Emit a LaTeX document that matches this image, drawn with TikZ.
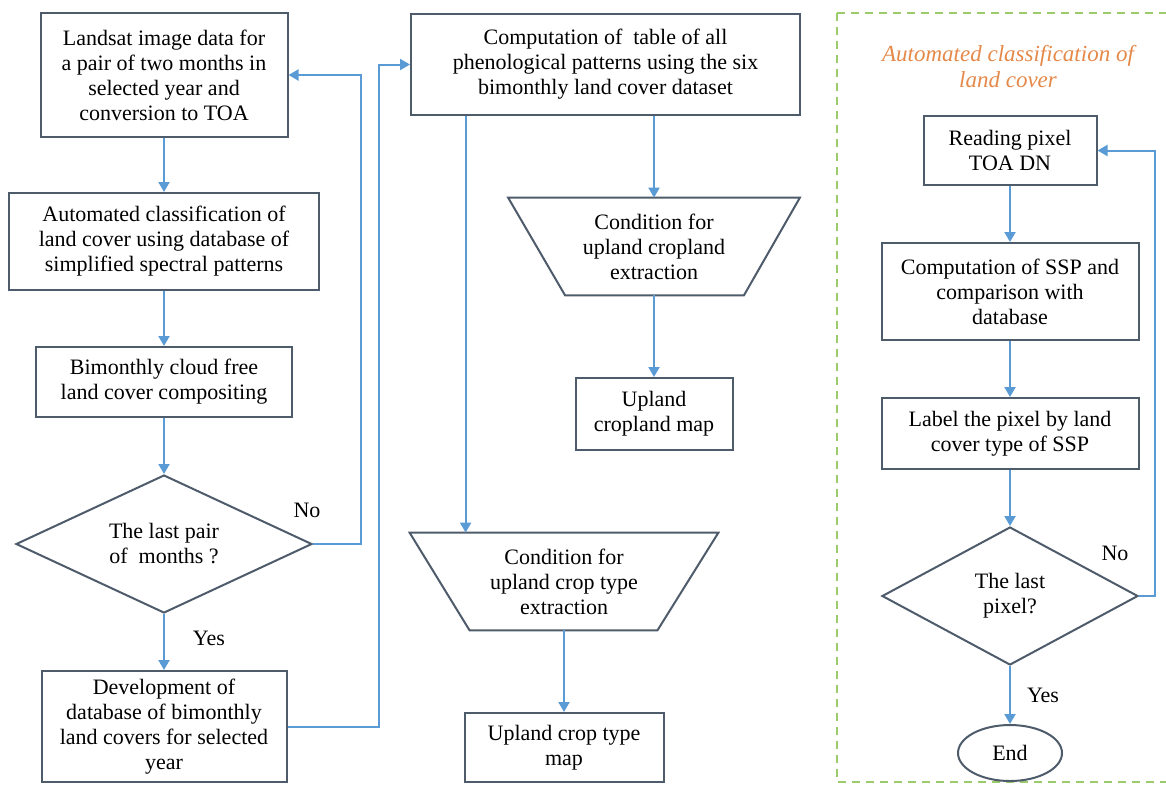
\documentclass[tikz,border=0pt]{standalone}
\usepackage{fontspec}
\setmainfont{Liberation Serif}
\usetikzlibrary{shapes.geometric,arrows.meta,calc}
\definecolor{boxc}{HTML}{4E5B6A}
\definecolor{arrc}{HTML}{5B9BD5}
\definecolor{framec}{HTML}{9BCB6B}
\definecolor{titlec}{HTML}{E4894A}
\begin{document}
\begin{tikzpicture}[x=0.5pt,y=-0.5pt,
  base/.style={font=\fontsize{11}{12.5}\selectfont, align=center, inner sep=0pt},
  box/.style={base, draw=boxc, line width=1pt, rectangle},
  dia/.style={base, draw=boxc, line width=1pt, diamond},
  trapbox/.style={base, rectangle},
  trapline/.style={draw=boxc, line width=1pt, line join=miter},
  arr/.style={draw=arrc, line width=1pt, -{Triangle[width=5.5pt,length=5pt]}},
  lab/.style={font=\fontsize{11}{12.5}\selectfont, inner sep=0pt}]
\useasboundingbox (0,0) rectangle (1166,784);

% dashed frame
\draw[framec, line width=0.7pt, dash pattern=on 4pt off 3pt] (837,13) rectangle (1185,782);
\node[font=\fontsize{11.5}{13}\selectfont\itshape, text=titlec, align=center, inner sep=0pt] (title) at (1008,67) {Automated classification of\\land cover};

% left column
\node[box, minimum width=123.5pt, minimum height=62pt] (A) at (164,75)
  {Landsat image data for\\a pair of two months in\\selected year and\\conversion to TOA};
\node[box, minimum width=155pt, minimum height=48.5pt] (B) at (164,241.5)
  {Automated classification of\\land cover using database of\\simplified spectral patterns};
\node[box, minimum width=128pt, minimum height=35pt] (C) at (164,382)
  {Bimonthly cloud free\\land cover compositing};
\node[dia, aspect=2.14, minimum width=148pt, minimum height=69pt] (D) at (164,544)
  {The last pair\\of\ \ months ?};
\node[box, minimum width=122.5pt, minimum height=55.5pt] (E) at (164,726.5)
  {\raisebox{0pt}[\height][\depth]{}Development of\\database of bimonthly\\land covers for selected\\year};

% middle column
\node[box, minimum width=194.5pt, minimum height=50.5pt] (F) at (605.5,64.5)
  {Computation of\ \ table of all\\phenological patterns using the six\\bimonthly land cover dataset};
\node[trapbox, minimum width=145.5pt, minimum height=48.5pt] (T1) at (654,246.5)
  {Condition for\\upland cropland\\extraction};
\draw[trapline] (T1.north west) -- (T1.north east) -- ([xshift=-28pt]T1.south east)
  -- ([xshift=28.5pt]T1.south west) -- cycle;
\node[box, minimum width=78.5pt, minimum height=36pt] (G) at (654,414)
  {Upland\\cropland map};
\node[trapbox, minimum width=154pt, minimum height=48.5pt] (T2) at (564,581.5)
  {Condition for\\upland crop type\\extraction};
\draw[trapline] (T2.north west) -- (T2.north east) -- ([xshift=-30.5pt]T2.south east)
  -- ([xshift=30pt]T2.south west) -- cycle;
\node[box, minimum width=99.5pt, minimum height=34.5pt] (H) at (564,747.5)
  {Upland crop type\\map};

% right column
\node[box, minimum width=86.5pt, minimum height=34.5pt] (I) at (1010,150.5)
  {Reading pixel\\TOA DN};
\node[box, minimum width=128.5pt, minimum height=48.5pt] (J) at (1010,291.5)
  {Computation of SSP and\\comparison with\\database};
\node[box, minimum width=128.5pt, minimum height=35.5pt] (K) at (1010,433.5)
  {Label the pixel by land\\cover type of SSP};
\node[dia, aspect=1.855, minimum width=128pt, minimum height=69pt] (L) at (1010,596)
  {The last\\pixel?};
\node[base, draw=boxc, line width=1pt, ellipse, minimum width=52pt, minimum height=28pt] (End) at (1010,753) {End};

% labels
\node[lab] (no1) at (307,510) {No};
\node[lab] (yes1) at (209,638) {Yes};
\node[lab] (no2) at (1115,553) {No};
\node[lab] (yes2) at (1043,695) {Yes};

% connectors left
\draw[arr] (A) -- (B);
\draw[arr] (B) -- (C);
\draw[arr] (C) -- (D);
\draw[arr] (D) -- (E);
\draw[arr] (D.east) -- ++(24pt,0) |- (A.east);
\draw[arr] (E.east) -- ++(45.5pt,0) |- (F.west);

% connectors middle
\coordinate (t2in) at ([xshift=28pt]T2.north west);
\draw[arr] (F.south -| t2in) -- (t2in);
\draw[arr] (F.south -| T1.north) -- (T1.north);
\draw[arr] (T1.south) -- (G.north);
\draw[arr] (T2.south) -- (H.north);

% connectors right
\draw[arr] (I) -- (J);
\draw[arr] (J) -- (K);
\draw[arr] (K) -- (L);
\draw[arr] (L) -- (End);
\draw[arr] (L.east) -- ++(8pt,0) |- (I.east);
\end{tikzpicture}
\end{document}
